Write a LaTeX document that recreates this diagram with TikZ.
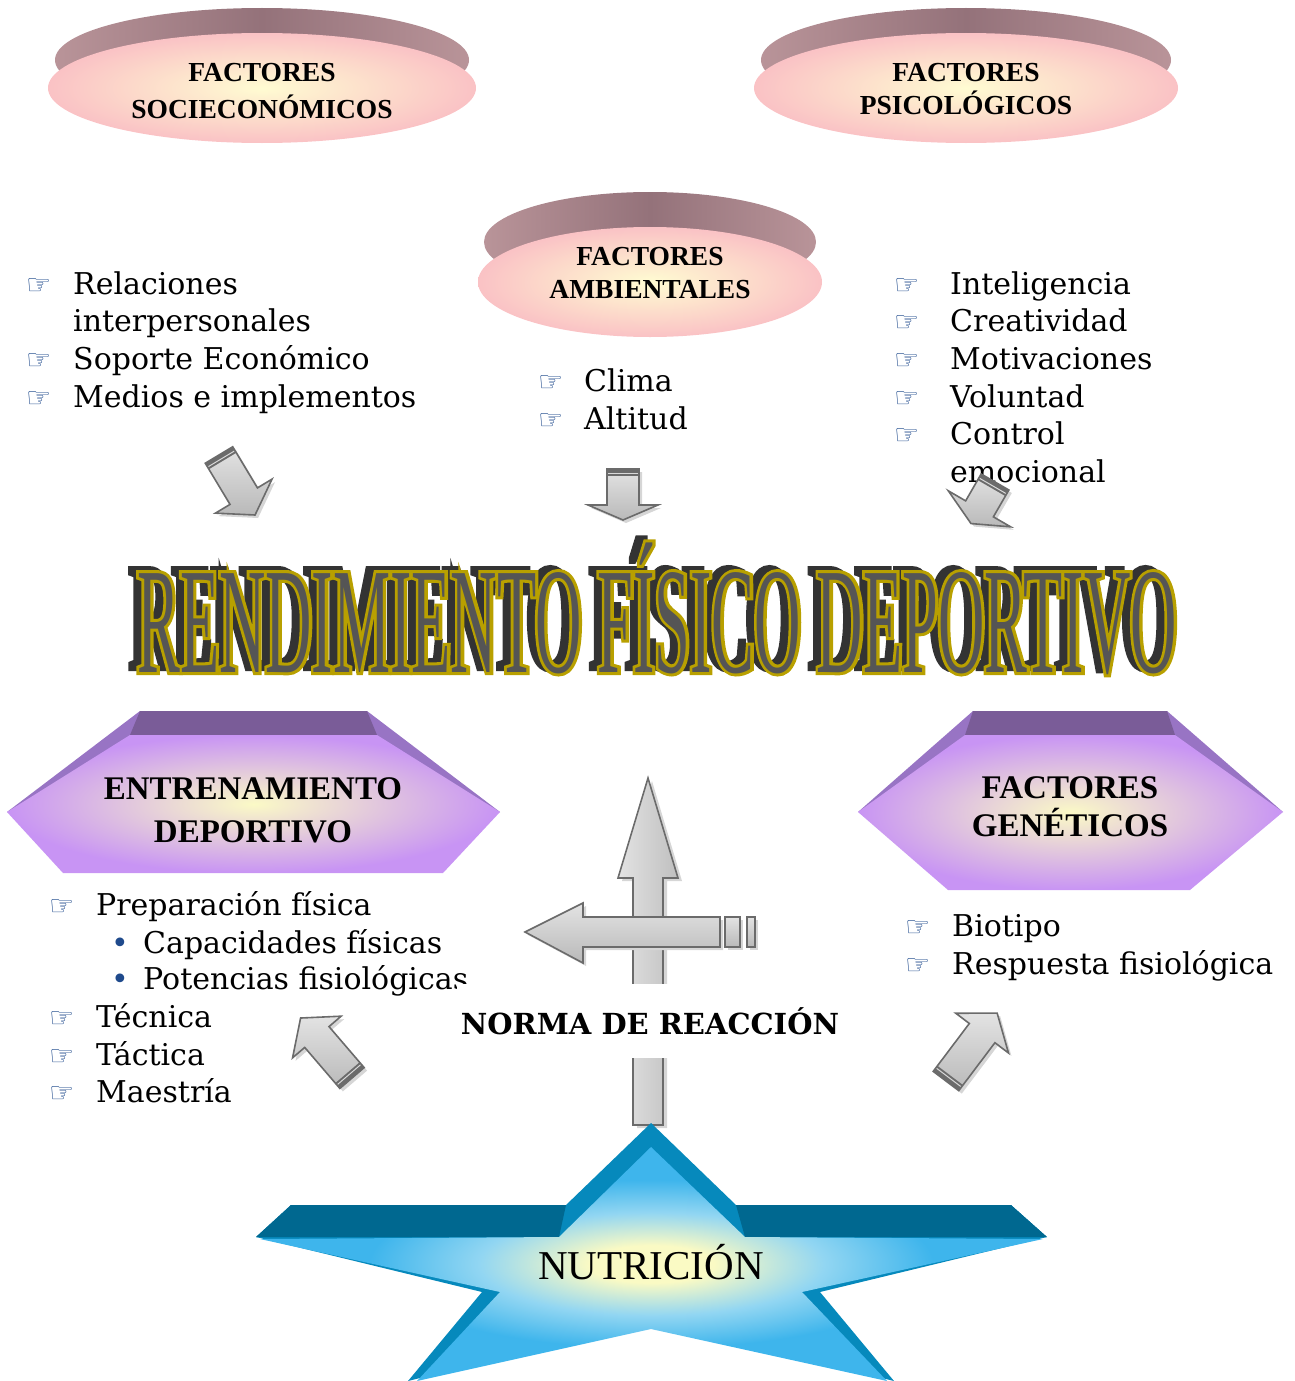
\documentclass[tikz,border=0pt]{standalone}
\usepackage{fontspec}
\setmainfont{DejaVu Serif}
\newfontfamily\headfont{Liberation Serif}
\newfontfamily\titlefont[FakeStretch=0.425]{Liberation Serif}
\newfontfamily\titlerimfont[FakeStretch=0.425, FakeBold=4]{Liberation Serif}
\newfontfamily\symfont{DejaVu Sans}
\usetikzlibrary{calc}

\definecolor{rimmauve}{HTML}{94727A}
\definecolor{rimlight}{HTML}{B99499}
\definecolor{pinkin}{HTML}{FFFCD2}
\definecolor{pinkout}{HTML}{FAC2C5}
\definecolor{hexdark}{HTML}{7A5C98}
\definecolor{hexside}{HTML}{9874C4}
\definecolor{hexin}{HTML}{FBFAC6}
\definecolor{hexout}{HTML}{C894F4}
\definecolor{stardark}{HTML}{006890}
\definecolor{starside}{HTML}{0689BC}
\definecolor{starin}{HTML}{FAFAC4}
\definecolor{starmid}{HTML}{92D6F2}
\definecolor{starout}{HTML}{3EB5EC}
\definecolor{handblue}{HTML}{1F4A8C}
\definecolor{titlegold}{HTML}{B8A000}
\definecolor{titleface}{HTML}{555555}
\definecolor{titledepth}{HTML}{333333}
\definecolor{arrowline}{HTML}{6B6B6B}

\pgfdeclareradialshading{starglow}{\pgfpoint{0bp}{0bp}}{color(0bp)=(starin); color(4bp)=(starin); color(11bp)=(starmid); color(18bp)=(starout); color(50bp)=(starout)}

\tikzset{
  disktop/.style={left color=rimlight, right color=rimlight, middle color=rimmauve},
  diskface/.style={inner color=pinkin, outer color=pinkout},
  hexface/.style={inner color=hexin, outer color=hexout},
  headtext/.style={font=\headfont\bfseries\fontsize{27.5}{33}\selectfont, align=center},
  hextext/.style={font=\headfont\bfseries\fontsize{33}{43}\selectfont, align=center},
  itemtext/.style={font=\fontsize{30}{37}\selectfont, anchor=base west, inner sep=0pt},
  hand/.style={font=\symfont\fontsize{28}{28}\selectfont, text=handblue, anchor=base west, inner sep=0pt},
  titlelayer/.style={anchor=base west, inner sep=0pt},
  arrowbody/.style={draw=arrowline, line width=1.6pt},
  arrowgrad/.style={top color=gray!22, bottom color=gray!55},
  arrowshadow/.style={fill=black!16},
}

\newcommand{\titleword}{\fontsize{151}{151}\selectfont RENDIMIENTO FÍSICO DEPORTIVO}

% gray block arrow: name, tail, angle, length, head length, head half width
\newcommand{\grayarrow}[6]{%
  \coordinate (#1) at (#2);
  \fill[arrowshadow, shift={($(#1)+(3,3)$)}, rotate=#3]
    (0,-16) -- (#4-#5,-16) -- (#4-#5,-#6) -- (#4,0) -- (#4-#5,#6) -- (#4-#5,16) -- (0,16) -- cycle;
  \shadedraw[arrowbody, arrowgrad, shift={(#1)}, rotate=#3]
    (0,-16) -- (#4-#5,-16) -- (#4-#5,-#6) -- (#4,0) -- (#4-#5,#6) -- (#4-#5,16) -- (0,16) -- cycle;
  \fill[arrowline, shift={(#1)}, rotate=#3] (0,-16) rectangle (7,16);
  \draw[gray!30, line width=1pt, shift={(#1)}, rotate=#3] (4.5,-15) -- (4.5,15);
}

\begin{document}
\begin{tikzpicture}[x=1pt, y=-1pt]
\useasboundingbox (0,0) rectangle (1295,1381);

% Factor disks
\shade[disktop] (262,60) ellipse [x radius=207pt, y radius=52pt];
\shade[diskface] (262,88) ellipse [x radius=214pt, y radius=55pt];
\node[headtext, font=\headfont\bfseries\fontsize{27.5}{37}\selectfont] (socio) at (262,91) {FACTORES\\SOCIECONÓMICOS};

\shade[disktop] (966,60) ellipse [x radius=205pt, y radius=52pt];
\shade[diskface] (966,88) ellipse [x radius=212pt, y radius=55pt];
\node[headtext] (psico) at (966,89) {FACTORES\\PSICOLÓGICOS};

\shade[disktop] (650,242) ellipse [x radius=166pt, y radius=50pt];
\shade[diskface] (650,282) ellipse [x radius=172pt, y radius=55pt];
\node[headtext] (ambient) at (650,273) {FACTORES\\AMBIENTALES};

% Hexagons
\fill[hexside] (140,711) -- (367,711) -- (500,812) -- (7,812) -- cycle;
\fill[hexdark] (140,711) -- (367,711) -- (377,735) -- (130,735) -- cycle;
\shade[hexface] (130,735) -- (377,735) -- (500,812) -- (443,873) -- (63,873) -- (7,812) -- cycle;
\node[hextext] (training) at (253,810) {ENTRENAMIENTO\\DEPORTIVO};

\fill[hexside] (973,711) -- (1167,711) -- (1283,812) -- (858,812) -- cycle;
\fill[hexdark] (973,711) -- (1167,711) -- (1175,735) -- (965,735) -- cycle;
\shade[hexface] (965,735) -- (1175,735) -- (1283,812) -- (1190,890) -- (948,890) -- (858,812) -- cycle;
\node[hextext, font=\headfont\bfseries\fontsize{33}{38}\selectfont] (genetic) at (1070,807) {FACTORES\\GENÉTICOS};

% Item lists
\foreach \y/\txt [count=\i] in {294/Relaciones, 331/interpersonales, 369/Soporte Económico, 407/Medios e implementos}
  \node[itemtext] (soc\i) at (73,\y) {\txt};
\foreach \y [count=\i] in {294,369,407}
  \node[hand] (sochand\i) at (26,\y) {☞};

\foreach \y/\txt [count=\i] in {391/Clima, 429/Altitud} {
  \node[itemtext] (amb\i) at (584,\y) {\txt};
  \node[hand] (ambhand\i) at (538,\y) {☞};
}

\foreach \y/\txt [count=\i] in {294/Inteligencia, 331/Creatividad, 369/Motivaciones, 407/Voluntad, 444/Control, 482/emocional}
  \node[itemtext] (psi\i) at (950,\y) {\txt};
\foreach \y [count=\i] in {294,331,369,407,444}
  \node[hand] (psihand\i) at (894,\y) {☞};

\foreach \y/\txt [count=\i] in {915/Preparación física, 1027/Técnica, 1065/Táctica, 1102/Maestría} {
  \node[itemtext] (train\i) at (96,\y) {\txt};
  \node[hand] (trainhand\i) at (49,\y) {☞};
}
\foreach \y/\txt [count=\i] in {953/Capacidades físicas, 989/Potencias fisiológicas} {
  \node[itemtext] (sub\i) at (143,\y) {\txt};
  \node[itemtext, text=handblue] (subdot\i) at (111,\y) {•};
}

\foreach \y/\txt [count=\i] in {936/Biotipo, 974/Respuesta fisiológica} {
  \node[itemtext] (gen\i) at (952,\y) {\txt};
  \node[hand] (genhand\i) at (905,\y) {☞};
}

% Title
\node[titlelayer, font=\titlerimfont, text=titledepth] (titledepth) at (129,668) {\titleword};
\node[titlelayer, font=\titlerimfont, text=titlegold] (titlerim) at (137,672) {\titleword};
\node[titlelayer, font=\titlefont, text=titleface] (title) at (137,672) {\titleword};

% Arrows towards the title and the lists
\grayarrow{socarrow}{219,455}{-59}{70}{22}{33}
\grayarrow{ambarrow}{623,469}{-90}{51}{15}{35}
\grayarrow{psiarrow}{995,482}{-120}{48}{17}{36}
\grayarrow{trainarrow}{352,1078}{130.6}{79}{25}{32}
\grayarrow{genarrow}{946,1081}{53}{85}{25}{33}

% Reaction norm arrows
\fill[arrowshadow] (637,1128) -- (637,881) -- (622,881) -- (652,781) -- (682,881) -- (667,881) -- (667,1128) -- cycle;
\shadedraw[arrowbody, left color=gray!22, right color=gray!50] (633,1125) -- (633,878) -- (618,878) -- (648,778) -- (678,878) -- (663,878) -- (663,1125) -- cycle;
\fill[arrowshadow] (723,920) -- (586,920) -- (586,906) -- (528,935) -- (586,966) -- (586,950) -- (723,950) -- cycle;
\shadedraw[arrowbody, arrowgrad] (720,917) -- (583,917) -- (583,903) -- (525,932) -- (583,963) -- (583,947) -- (720,947) -- cycle;
\fill[arrowshadow] (728,920) rectangle (743,950);
\fill[arrowshadow] (750,920) rectangle (758,950);
\shadedraw[arrowbody, arrowgrad] (725,917) rectangle (740,947);
\shadedraw[arrowbody, arrowgrad] (747,917) rectangle (755,947);
\node[fill=white, minimum height=74pt, inner xsep=4pt, font=\bfseries\fontsize{29}{29}\selectfont] (norma) at (650,1021) {NORMA DE REACCIÓN};

% Nutrition star
\fill[starside] (651,1123) -- (566,1205) -- (291,1205) -- (256,1237) -- (482,1292) -- (408,1381) -- (651,1320) -- (894,1381) -- (820,1292) -- (1047,1237) -- (1011,1205) -- (736,1205) -- cycle;
\fill[stardark] (291,1205) -- (566,1205) -- (559,1237) -- (256,1237) -- cycle;
\fill[stardark] (736,1205) -- (1011,1205) -- (1047,1237) -- (745,1237) -- cycle;
\shade[shading=starglow] (651,1147) -- (745,1237) -- (1043,1239) -- (802,1292) -- (887,1381) -- (651,1329) -- (417,1381) -- (500,1292) -- (260,1239) -- (559,1237) -- cycle;
\node[font=\headfont\fontsize{41}{41}\selectfont] (nutrition) at (651,1262) {NUTRICIÓN};
\end{tikzpicture}
\end{document}
